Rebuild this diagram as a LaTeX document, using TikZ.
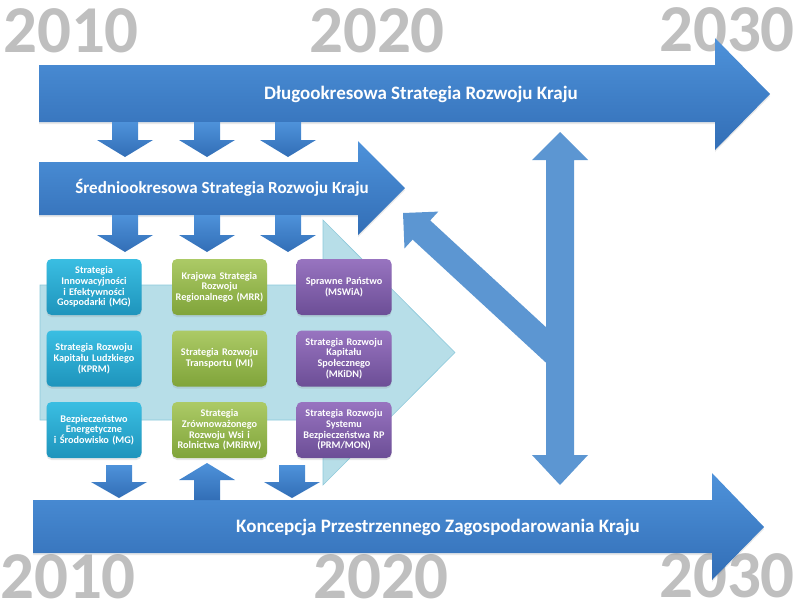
\documentclass[tikz,border=0pt]{standalone}
\usepackage{fontspec}
\setmainfont{Carlito}
\usetikzlibrary{shadows}
\definecolor{yeargray}{RGB}{191,191,191}
\definecolor{bluetop}{RGB}{78,146,218}
\definecolor{bluebot}{RGB}{50,110,182}
\definecolor{flatblue}{RGB}{92,150,210}
\definecolor{lightarr}{RGB}{183,222,232}
\definecolor{lightedge}{RGB}{140,200,218}
\definecolor{cyantop}{RGB}{58,190,226}
\definecolor{cyanbot}{RGB}{30,148,188}
\definecolor{greentop}{RGB}{172,202,102}
\definecolor{greenbot}{RGB}{128,164,58}
\definecolor{purptop}{RGB}{152,116,192}
\definecolor{purpbot}{RGB}{108,78,150}
\tikzset{
  softshadow/.style={drop shadow={opacity=0.18, shadow xshift=0pt, shadow yshift=-2pt}},
  bigarrow/.style={softshadow, top color=bluetop, bottom color=bluebot},
  smallarrow/.style={top color=bluetop, bottom color=bluebot},
  flatarrow/.style={fill=flatblue},
  yeartext/.style={font=\fontsize{67}{67}\selectfont\bfseries, text=yeargray, inner sep=0, text depth=0pt, anchor=base},
  arrowlabel/.style={font=\fontsize{19}{21}\selectfont\bfseries, text=white, inner sep=0},
  midlabel/.style={font=\fontsize{17}{19}\selectfont\bfseries, text=white, inner sep=0},
  boxbase/.style={softshadow, rounded corners=5pt, minimum width=95pt, minimum height=56pt, text width=93pt, align=center, font=\fontsize{10.2}{10.7}\selectfont\bfseries, text=white, inner sep=0},
  cyanbox/.style={boxbase, top color=cyantop, bottom color=cyanbot},
  greenbox/.style={boxbase, top color=greentop, bottom color=greenbot},
  purpbox/.style={boxbase, top color=purptop, bottom color=purpbot},
}
\newcommand{\BlockArr}[4]{\path[smallarrow] (#1-13,#2) -- (#1+13,#2) -- (#1+13,#3) -- (#1+28,#3) -- (#1,#4) -- (#1-28,#3) -- (#1-13,#3) -- cycle;}
\begin{document}
\begin{tikzpicture}[x=1pt,y=-1pt]
\useasboundingbox (0,0) rectangle (801,611);
% years
\node[yeartext] (y10t) at (71,52) {2010};
\node[yeartext] (y20t) at (377,52) {2020};
\node[yeartext] (y30t) at (727,51) {2030};
\node[yeartext] (y10b) at (68,598) {2010};
\node[yeartext] (y20b) at (381,598) {2020};
\node[yeartext] (y30b) at (727,597) {2030};
% light blue background arrow
\path[fill=lightarr, draw=lightedge, line width=0.6pt] (40,285) -- (323,285) -- (323,220) -- (455,352.5) -- (323,485) -- (323,420) -- (40,420) -- cycle;
% big arrows
\path[bigarrow] (39,65) -- (715,65) -- (715,38) -- (770,94) -- (715,150) -- (715,122) -- (39,122) -- cycle;
\path[bigarrow] (39,162) -- (358,162) -- (358,141) -- (405,188) -- (358,235) -- (358,215) -- (39,215) -- cycle;
\path[bigarrow] (33,500) -- (712,500) -- (712,473) -- (764,527) -- (712,580) -- (712,553) -- (33,553) -- cycle;
\node[arrowlabel] (dsrk) at (421,94) {Długookresowa Strategia Rozwoju Kraju};
\node[midlabel] (ssrk) at (222,188) {Średniookresowa Strategia Rozwoju Kraju};
\node[arrowlabel] (kpzk) at (438,527) {Koncepcja Przestrzennego Zagospodarowania Kraju};
% small arrows
\BlockArr{125}{122}{140}{157}
\BlockArr{207}{122}{140}{157}
\BlockArr{288}{122}{140}{157}
\BlockArr{125}{215}{235}{252}
\BlockArr{207}{215}{235}{252}
\BlockArr{288}{215}{235}{252}
\BlockArr{119}{465}{482}{498}
\BlockArr{207}{500}{480}{463}
\BlockArr{292}{465}{482}{498}
% double and diagonal arrows
\path[flatarrow] (438.3,211.6) -- (403,213) -- (404.5,248.4) -- (412.6,239.6) -- (560,375.6) -- (560,340.1) -- (430.2,220.4) -- cycle;
\path[flatarrow] (546,160) -- (532,160) -- (560,132) -- (588,160) -- (574,160) -- (574,455) -- (588,455) -- (560,485) -- (532,455) -- (546,455) -- cycle;
% boxes
\node[cyanbox] (b11) at (94,287) {Strategia\\Innowacyjności\\i Efektywności\\Gospodarki (MG)};
\node[cyanbox] (b21) at (94,358.5) {Strategia Rozwoju\\Kapitału Ludzkiego\\(KPRM)};
\node[cyanbox] (b31) at (94,430) {Bezpieczeństwo\\Energetyczne\\i Środowisko (MG)};
\node[greenbox] (b12) at (219.5,287) {Krajowa Strategia\\Rozwoju\\Regionalnego (MRR)};
\node[greenbox] (b22) at (219.5,358.5) {Strategia Rozwoju\\Transportu (MI)};
\node[greenbox] (b32) at (219.5,430) {Strategia\\Zrównoważonego\\Rozwoju Wsi i\\Rolnictwa (MRiRW)};
\node[purpbox] (b13) at (344,287) {Sprawne Państwo\\(MSWiA)};
\node[purpbox] (b23) at (344,358.5) {Strategia Rozwoju\\Kapitału\\Społecznego\\(MKiDN)};
\node[purpbox] (b33) at (344,430) {Strategia Rozwoju\\Systemu\\Bezpieczeństwa RP\\(PRM/MON)};
\end{tikzpicture}
\end{document}
